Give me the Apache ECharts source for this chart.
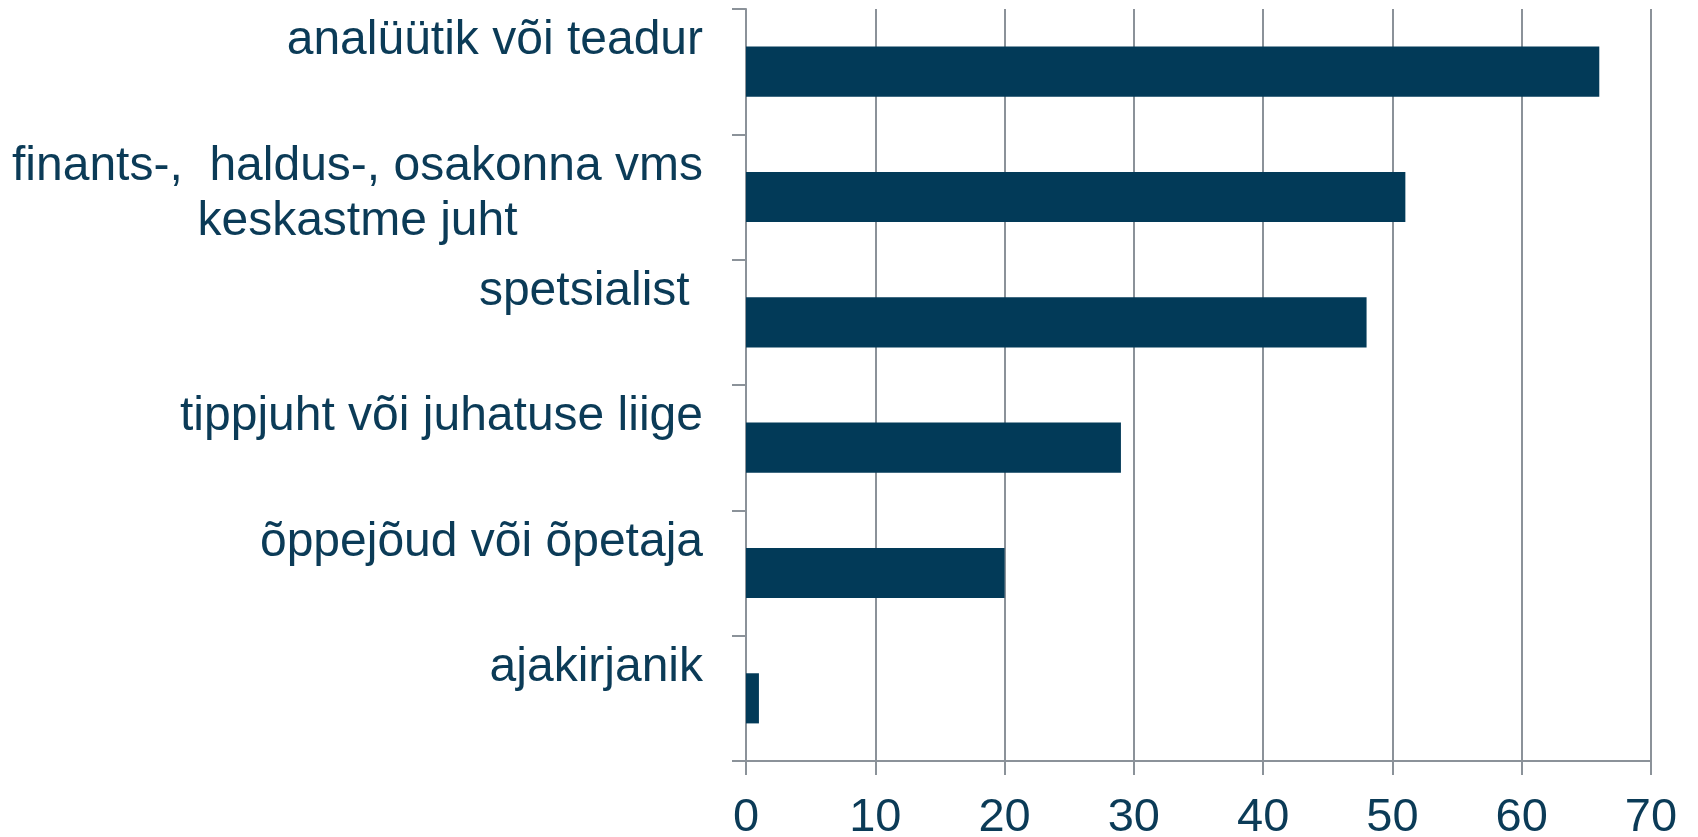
<!DOCTYPE html>
<html>
<head>
<meta charset="utf-8">
<script src="https://cdn.jsdelivr.net/npm/echarts@6/dist/echarts.min.js"></script>
<style>
  html, body { margin: 0; padding: 0; background: #fff; }
  #chart { width: 1698px; height: 837px; }
</style>
</head>
<body>
<div id="chart"></div>
<script>
const categories = [
  "analüütik või teadur",
  "finants-,  haldus-, osakonna vms\nkeskastme juht",
  "spetsialist ",
  "tippjuht või juhatuse liige",
  "õppejõud või õpetaja",
  "ajakirjanik",
];
const values = [66, 51, 48, 29, 20, 1];
const valueTicks = [0, 10, 20, 30, 40, 50, 60, 70];

const textColor = "#0b3b57";
const barColor = "#023a58";
const gridColor = "#8b9299";
const font = "'Liberation Sans', Arial, sans-serif";

const chart = echarts.init(document.getElementById("chart"));

const option = {
  animation: false,
  grid: { left: 746, right: 47, top: 9, bottom: 76, outerBoundsMode: "none" },
  xAxis: {
    type: "value",
    min: valueTicks[0],
    max: valueTicks[valueTicks.length - 1],
    interval: 10,
    axisLine: { show: true, lineStyle: { color: gridColor, width: 2 } },
    axisTick: { show: true, length: 14, lineStyle: { color: gridColor, width: 2 } },
    splitLine: { show: true, lineStyle: { color: gridColor, width: 2 } },
    axisLabel: {
      color: textColor,
      fontFamily: font,
      fontSize: 47,
      margin: 34,
    },
  },
  yAxis: {
    type: "category",
    inverse: true,
    data: categories,
    axisLine: { show: true, lineStyle: { color: gridColor, width: 2 } },
    axisTick: { show: true, length: 14, lineStyle: { color: gridColor, width: 2 } },
    axisLabel: {
      color: textColor,
      fontFamily: font,
      fontSize: 48,
      lineHeight: 55,
      align: "right",
      margin: 43,
      padding: [0, 0, 6, 0],
      // labels sit at the top of each band, so pad single lines to two;
      // lines are centred inside the right-aligned block
      formatter: (v) => {
        const lines = v.split("\n");
        if (lines.length < 2) lines.push(" ");
        return lines.map((l) => "{c|" + l + "}").join("\n");
      },
      rich: {
        c: {
          align: "center",
          color: textColor,
          fontFamily: font,
          fontSize: 48,
          lineHeight: 55,
        },
      },
    },
  },
  series: [
    {
      type: "bar",
      data: values,
      barWidth: "40%",
      itemStyle: { color: barColor },
    },
  ],
};

chart.setOption(option);
</script>
</body>
</html>
